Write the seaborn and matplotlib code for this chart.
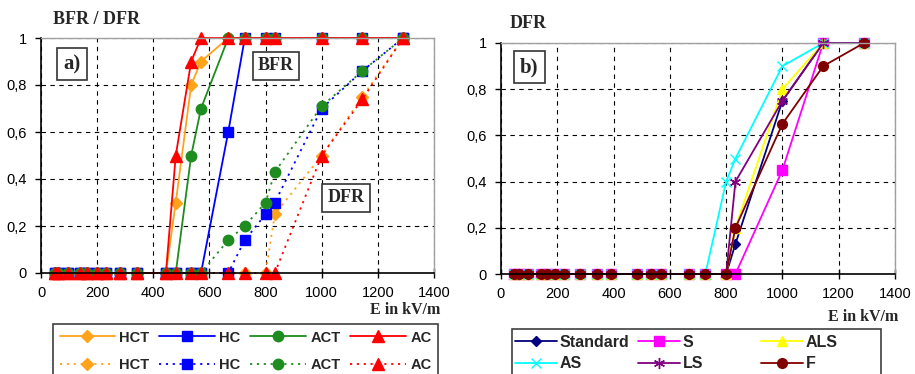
import matplotlib
matplotlib.use("Agg")
import matplotlib.pyplot as plt
import matplotlib.patches as mpatches
import seaborn as sns

# ---- data ----
x_a = [50, 62, 95, 140, 165, 198, 230, 283, 343, 445, 480, 535, 570, 667, 726, 800, 833, 1000, 1145, 1290]
hct_bfr = [0, 0, 0, 0, 0, 0, 0, 0, 0, 0, 0.3, 0.8, 0.9, 1, 1, 1, 1, 1, 1, 1]
hc_bfr = [0, 0, 0, 0, 0, 0, 0, 0, 0, 0, 0, 0, 0, 0.6, 1, 1, 1, 1, 1, 1]
act_bfr = [0, 0, 0, 0, 0, 0, 0, 0, 0, 0, 0, 0.5, 0.7, 1, 1, 1, 1, 1, 1, 1]
ac_bfr = [0, 0, 0, 0, 0, 0, 0, 0, 0, 0, 0.5, 0.9, 1, 1, 1, 1, 1, 1, 1, 1]
hct_dfr = [0, 0, 0, 0, 0, 0, 0, 0, 0, 0, 0, 0, 0, 0, 0, 0, 0.25, 0.5, 0.75, 1]
hc_dfr = [0, 0, 0, 0, 0, 0, 0, 0, 0, 0, 0, 0, 0, 0, 0.14, 0.25, 0.3, 0.7, 0.86, 1]
act_dfr = [0, 0, 0, 0, 0, 0, 0, 0, 0, 0, 0, 0, 0, 0.14, 0.2, 0.3, 0.43, 0.71, 0.86, 1]
ac_dfr = [0, 0, 0, 0, 0, 0, 0, 0, 0, 0, 0, 0, 0, 0, 0, 0, 0, 0.5, 0.74, 1]

x_b = [45, 65, 95, 142, 165, 192, 225, 281, 340, 391, 482, 532, 570, 667, 726, 800, 833, 1000, 1145, 1290]
standard = [0, 0, 0, 0, 0, 0, 0, 0, 0, 0, 0, 0, 0, 0, 0, 0, 0.13, 0.75, 1, 1]
s_ser = [0, 0, 0, 0, 0, 0, 0, 0, 0, 0, 0, 0, 0, 0, 0, 0, 0, 0.45, 1, 1]
als = [0, 0, 0, 0, 0, 0, 0, 0, 0, 0, 0, 0, 0, 0, 0, 0, 0.2, 0.8, 1, 1]
as_ser = [0, 0, 0, 0, 0, 0, 0, 0, 0, 0, 0, 0, 0, 0, 0, 0.4, 0.5, 0.9, 1, 1]
ls_ser = [0, 0, 0, 0, 0, 0, 0, 0, 0, 0, 0, 0, 0, 0, 0, 0, 0.4, 0.75, 1, 1]
f_ser = [0, 0, 0, 0, 0, 0, 0, 0, 0, 0, 0, 0, 0, 0, 0, 0, 0.2, 0.65, 0.9, 1]

x_ticks = [0, 200, 400, 600, 800, 1000, 1200, 1400]
y_ticks = [0, 0.2, 0.4, 0.6, 0.8, 1]
y_ticklabels = ["0", "0,2", "0,4", "0,6", "0,8", "1"]

sns.set_theme(style="white")
plt.rcParams['font.family'] = ['Liberation Sans', 'DejaVu Sans']

fig = plt.figure(figsize=(9.15, 3.74), dpi=100)
ax_a = fig.add_axes([41 / 915, 1 - 273 / 374, 393 / 915, 235 / 374])
ax_b = fig.add_axes([501 / 915, 1 - 274 / 374, 394 / 915, 231 / 374])

serif = ['Liberation Serif', 'DejaVu Serif']


def style_axes(ax):
    ax.set_xlim(0, 1400)
    ax.set_ylim(0, 1)
    ax.set_xticks(x_ticks)
    ax.set_yticks(y_ticks)
    ax.set_yticklabels(y_ticklabels)
    ax.grid(True, color='black', linestyle=(0, (4, 4)), linewidth=0.8)
    ax.set_axisbelow(True)
    for sp in ['top', 'right']:
        ax.spines[sp].set_color('#a0a0a0')
        ax.spines[sp].set_linewidth(1.0)
    for sp in ['left', 'bottom']:
        ax.spines[sp].set_color('black')
        ax.spines[sp].set_linewidth(1.2)
    ax.tick_params(axis='x', direction='inout', length=7, width=1, pad=6,
                   labelsize=10.5, colors='black', bottom=True)
    ax.tick_params(axis='y', direction='out', length=4, width=1, pad=6,
                   labelsize=10.5, colors='black', left=True)
    ax.set_xlabel('')
    ax.set_ylabel('')


def draw(ax, x, y, color, marker, ms, ls, label):
    sns.lineplot(x=x, y=y, ax=ax, color=color, marker=marker, markersize=ms,
                 markeredgecolor=color, markerfacecolor=color, markeredgewidth=1,
                 linestyle=ls, linewidth=1.3, sort=False, estimator=None,
                 legend=False, label=label, clip_on=False)
    return ax.get_lines()[-1]


# ---- panel a) ----
dot = (0, (1.2, 2.6))
names_a = ['HCT', 'HC', 'ACT', 'AC']
cols_a = ['#ffa31a', '#0000ff', '#1e8c1e', '#ff0000']
marks_a = ['D', 's', 'o', '^']
sizes_a = [6, 7, 7.5, 8.5]
solid_h = []
for y, c, m, ms, n in zip([hct_bfr, hc_bfr, act_bfr, ac_bfr], cols_a, marks_a, sizes_a, names_a):
    solid_h.append(draw(ax_a, x_a, y, c, m, ms, '-', n))
dot_h = []
for y, c, m, ms, n in zip([hct_dfr, hc_dfr, act_dfr, ac_dfr], cols_a, marks_a, sizes_a, names_a):
    dot_h.append(draw(ax_a, x_a, y, c, m, ms, dot, n))
style_axes(ax_a)

# ---- panel b) ----
names_b = ['Standard', 'S', 'ALS', 'AS', 'LS', 'F']
cols_b = ['#000080', '#ff00ff', '#ffff00', '#00ffff', '#800080', '#800000']
marks_b = ['D', 's', '^', 'x', (6, 2, 0), 'o']
sizes_b = [5, 6.5, 7, 7, 8, 7]
hb = {}
for y, c, m, ms, n in zip([standard, s_ser, als, as_ser, ls_ser, f_ser], cols_b, marks_b, sizes_b, names_b):
    hb[n] = draw(ax_b, x_b, y, c, m, ms, '-', n)
style_axes(ax_b)

# ---- texts ----
fig.text(53 / 915, 1 - 19 / 374, 'BFR / DFR', family=serif, fontweight='bold',
         fontsize=13, ha='left', va='center')
fig.text(510 / 915, 1 - 24 / 374, 'DFR', family=serif, fontweight='bold',
         fontsize=13, ha='left', va='center')
fig.text(440 / 915, 1 - 310 / 374, 'E in kV/m', family=serif, fontweight='bold',
         fontsize=11.5, ha='right', va='center')
fig.text(898 / 915, 1 - 317 / 374, 'E in kV/m', family=serif, fontweight='bold',
         fontsize=11.5, ha='right', va='center')

box = dict(boxstyle='square,pad=0.3', facecolor='white', edgecolor='#333333', linewidth=1.2)
fig.text(72 / 915, 1 - 64 / 374, 'a)', family=serif, fontweight='bold', fontsize=15,
         ha='center', va='center', bbox=box)
fig.text(276 / 915, 1 - 66 / 374, 'BFR', family=serif, fontweight='bold', fontsize=13,
         ha='center', va='center', bbox=box)
fig.text(346 / 915, 1 - 198 / 374, 'DFR', family=serif, fontweight='bold', fontsize=13,
         ha='center', va='center', bbox=box)
fig.text(529 / 915, 1 - 67 / 374, 'b)', family=serif, fontweight='bold', fontsize=15,
         ha='center', va='center', bbox=box)

# ---- legend a) ----
handles_a = []
for h1, h2 in zip(solid_h, dot_h):
    handles_a += [h1, h2]
labels_a = [h.get_label() for h in handles_a]
top_a = 1 - 324 / 374
leg_a = fig.legend(handles_a, labels_a, ncol=4, loc='upper left',
                   bbox_to_anchor=(53 / 915, top_a - 0.3, 385 / 915, 0.3),
                   mode='expand', frameon=True, fancybox=False, edgecolor='#404040',
                   framealpha=1, handlelength=3.8, handletextpad=0.3, columnspacing=0.6,
                   labelspacing=0.9, borderpad=0.45, borderaxespad=0,
                   prop={'weight': 'bold', 'size': 10.5})
leg_a.get_frame().set_linewidth(1.2)

# ---- legend b): framed box with three equal-width columns ----
top_b = 1 - 329 / 374
frame_b = mpatches.Rectangle((512 / 915, -0.05), 369 / 915, top_b + 0.05,
                             transform=fig.transFigure, facecolor='white',
                             edgecolor='#404040', linewidth=1.2, zorder=5)
fig.add_artist(frame_b)
cols_leg_b = [['Standard', 'AS'], ['S', 'LS'], ['ALS', 'F']]
col_x = [515, 638, 761]
for names, cx in zip(cols_leg_b, col_x):
    lg = fig.legend([hb[n] for n in names], names, loc='upper left',
                    bbox_to_anchor=(cx / 915, 1 - 335 / 374), frameon=False,
                    handlelength=2.6, handletextpad=0.2, labelspacing=0.4,
                    borderpad=0, borderaxespad=0,
                    prop={'weight': 'bold', 'size': 11.5})
    lg.set_zorder(6)

fig.savefig('out.png', dpi=100)
